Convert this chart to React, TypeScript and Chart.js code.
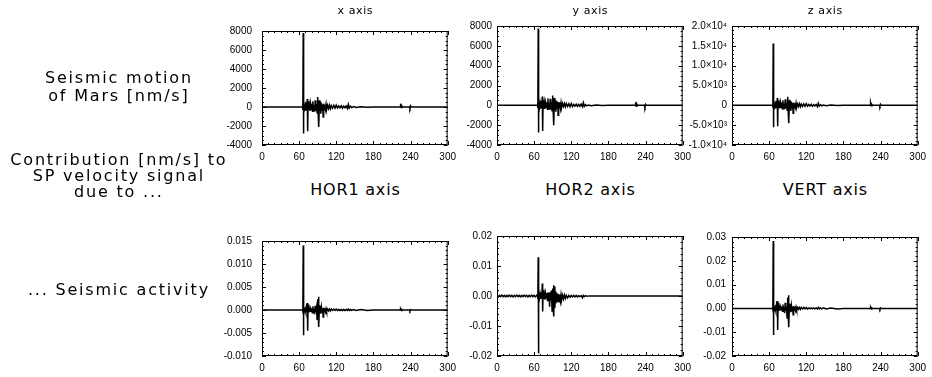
import React, { useEffect, useRef } from "react";
import { Chart, registerables } from "chart.js";

Chart.register(...registerables);

const TICK_FONT = "'Liberation Sans', Arial, sans-serif";
const TEXT_FONT = "'DejaVu Sans', 'Liberation Sans', sans-serif";

// ---------------- data ----------------
const xTickValues = [0, 60, 120, 180, 240, 300];

// shared time samples (s) for the event traces
const eventTimes = [
  0, 64, 65.5, 66, 66.6, 67.0, 67.5, 68.5, 69.5, 70.5,
  71.5, 72.5, 73.2, 73.8, 74.5, 75.5, 76.5, 77.5, 78.5, 79.5,
  80.5, 81.5, 82.3, 83, 84, 85, 86, 87, 88, 89,
  90, 90.7, 91.3, 92, 92.8, 93.5, 94.3, 95, 96, 97,
  98, 98.8, 99.6, 100.5, 101.5, 102.5, 103.5, 104.5, 106, 107.5,
  109, 110.5, 112, 114, 116, 118, 120, 122, 124, 126,
  128, 130, 132, 134, 136, 138, 139.5, 141, 143, 145,
  148, 152, 160, 170, 180, 223, 224, 225, 226, 227,
  238, 239, 240, 241, 300,
];

// Seismic motion of Mars [nm/s], x axis
const xAxisMotion = [
  0, 0, 0, -300, 7800, -2800, 300, -200, 150, -400,
  500, -300, 850, -2550, 600, -300, 200, -400, 300, -250,
  350, -450, 600, -300, 200, -500, 700, -400, 300, -600,
  1050, -500, 600, -2100, 700, -300, 550, -700, 400, -350,
  300, -1050, 350, -300, 250, -200, 280, -250, 180, -150,
  200, -180, 150, -130, 180, -120, 200, -100, 110, -90,
  120, -120, 90, -80, 110, -150, 280, -100, 80, -60,
  40, -40, 30, -20, 0, 0, 350, -50, 100, 0,
  0, -150, 120, 0, 0,
];

// y axis
const yAxisMotion = [
  0, 0, 0, -250, 7750, -2750, 350, -250, 200, -350,
  450, -250, 900, -2600, 550, -350, 250, -350, 250, -200,
  300, -400, 700, -250, 250, -450, 650, -450, 350, -550,
  1000, -450, 650, -2000, 750, -350, 500, -650, 450, -300,
  350, -1000, 300, -250, 300, -250, 250, -200, 200, -120,
  180, -150, 170, -110, 150, -140, 180, -120, 100, -80,
  110, -100, 100, -90, 120, -130, 260, -110, 70, -50,
  40, -30, 30, -20, 0, 0, 300, -80, 120, 0,
  0, -180, 100, 0, 0,
];

// z axis
const zAxisMotion = [
  0, 0, 0, -500, 15600, -5500, 600, -400, 300, -800,
  1000, -600, 1850, -5300, 1200, -600, 400, -800, 600, -500,
  700, -900, 1300, -600, 400, -1000, 1500, -800, 600, -1200,
  2150, -1000, 1200, -4500, 1400, -600, 1100, -1400, 800, -700,
  600, -2000, 700, -600, 500, -400, 550, -500, 350, -300,
  400, -350, 300, -250, 350, -250, 400, -200, 220, -180,
  240, -240, 180, -160, 220, -300, 500, -200, 160, -120,
  80, -80, 60, -40, 0, 0, 600, -100, 200, 0,
  0, -300, 240, 0, 0,
];

// Contribution to SP velocity signal, HOR1
const hor1Contribution = [
  0, 0, 0, -0.0003, 0.014, -0.0055, 0.0004, -0.0003, 0.0002, -0.0004,
  0.0005, -0.0004, 0.0015, -0.0045, 0.0012, -0.0005, 0.0003, -0.0004, 0.0003, -0.0003,
  0.0004, -0.0006, 0.0008, -0.0004, 0.0003, -0.0009, 0.0009, -0.0005, 0.0004, -0.002,
  0.0024, -0.0008, 0.0029, -0.0037, 0.001, -0.0004, 0.0008, -0.0008, 0.0006, -0.0005,
  0.0004, -0.0015, 0.0005, -0.0004, 0.0004, -0.0003, 0.0003, -0.0003, 0.0002, -0.0002,
  0.0002, -0.0002, 0.0002, -0.0001, 0.0002, -0.0001, 0.0002, -0.0001, 0.0001, -0.0001,
  0.0001, -0.0001, 0.0001, -0.0001, 0.0001, -0.0001, 0.0002, -0.0001, 0.0001, -0.0001,
  0.0001, -0.0001, 0.0001, -0.0001, 0, 0, 0.0002, -0.0001, 0.0001, 0,
  0, -0.0002, 0.0001, 0, 0,
];

// VERT
const vertContribution = [
  0, 0, 0, -0.0006, 0.0283, -0.0112, 0.0008, -0.0006, 0.0004, -0.0008,
  0.001, -0.0008, 0.0031, -0.0091, 0.0024, -0.001, 0.0006, -0.0008, 0.0006, -0.0006,
  0.0008, -0.0012, 0.0016, -0.0008, 0.0006, -0.002, 0.0024, -0.001, 0.0008, -0.004,
  0.0046, -0.0016, 0.0055, -0.0079, 0.002, -0.0008, 0.0016, -0.0016, 0.0012, -0.001,
  0.0008, -0.0027, 0.001, -0.0008, 0.0008, -0.0006, 0.0006, -0.0006, 0.0004, -0.0004,
  0.0004, -0.0004, 0.0004, -0.0002, 0.0004, -0.0002, 0.0004, -0.0002, 0.0002, -0.0002,
  0.0002, -0.0002, 0.0002, -0.0002, 0.0002, -0.0002, 0.0004, -0.0002, 0.0002, -0.0002,
  0.0002, -0.0002, 0.0002, -0.0002, 0, 0, 0.0004, -0.0002, 0.0002, 0,
  0, -0.0004, 0.0002, 0, 0,
];

// HOR2 has its own samples (background noise before the event)
const hor2Times = [
  0, 2, 4, 6, 8, 10, 12, 14, 16, 18,
  20, 22, 24, 26, 28, 30, 32, 34, 36, 38,
  40, 42, 44, 46, 48, 50, 52, 54, 56, 58,
  60, 62, 64,
  65.5, 66, 66.6, 67.0, 67.5, 68.5, 69.5, 70.5, 71.5, 72.5,
  73.2, 73.8, 74.5, 75.5, 76.5, 77.5, 78.5, 79.5, 80.5, 81.5,
  82.3, 83, 84, 85, 86, 87, 88, 89, 90, 90.7,
  91.3, 92, 92.8, 93.5, 94.3, 95, 96, 97, 98, 98.8,
  99.6, 100.5, 101.5, 102.5, 103.5, 104.5, 106, 107.5, 109, 110.5,
  112, 114, 116, 118, 120, 122, 124, 126, 128, 130,
  132, 134, 136, 138, 139.5, 141, 143, 145,
  150, 160, 170, 180, 190, 200, 210, 220, 230, 240,
  250, 260, 270, 280, 290, 300,
];

const hor2Contribution = [
  0.0002, -0.0003, 0.0002, -0.0002, 0.0003, -0.0002, 0.0002, -0.0003, 0.0002, -0.0002,
  0.0003, -0.0002, 0.0002, -0.0003, 0.0002, -0.0002, 0.0003, -0.0002, 0.0002, -0.0003,
  0.0002, -0.0002, 0.0003, -0.0002, 0.0002, -0.0003, 0.0002, -0.0002, 0.0003, -0.0002,
  0.0002, -0.0003, 0.0002,
  0.0005, -0.001, 0.0129, -0.0192, 0.0015, -0.0008, 0.0006, -0.001, 0.0012, -0.0008,
  0.0042, -0.0052, 0.002, -0.001, 0.0006, -0.0012, 0.0008, -0.0006, 0.001, -0.0015,
  0.0012, -0.0008, 0.001, -0.0036, 0.0014, -0.0015, 0.0018, -0.005, 0.0025, -0.0035,
  0.0036, -0.0068, 0.0032, -0.004, 0.0015, -0.0025, 0.001, -0.0018, 0.0008, -0.0015,
  0.0006, -0.0019, 0.0005, -0.0014, 0.0004, -0.0012, 0.0003, -0.001, 0.0003, -0.0008,
  0.0002, -0.0006, 0.0002, -0.0004, 0.0002, -0.0003, 0.0002, -0.0003, 0.0002, -0.0003,
  0.0001, -0.0002, 0.0001, -0.0006, 0.0002, -0.0002, 0.0001, -0.0001,
  0.00004, -0.00004, 0.00004, -0.00004, 0.00004, -0.00004, 0.00004, -0.00004, 0.00004, -0.00004,
  0.00004, -0.00004, 0.00004, -0.00004, 0.00004, 0,
];

const zTickValues = [-10000, -5000, 0, 5000, 10000, 15000, 20000];
const zTickLabels = ["-1.0×10⁴", "-5.0×10³", "0", "5.0×10³", "1.0×10⁴", "1.5×10⁴", "2.0×10⁴"];

const panelTitles = ["x axis", "y axis", "z axis", "HOR1 axis", "HOR2 axis", "VERT axis"];
const rowLabels = [
  ["Seismic motion", "of Mars [nm/s]"],
  ["Contribution [nm/s] to", "SP velocity signal", "due to ..."],
  ["... Seismic activity"],
];

// ---------------- layout ----------------
const YW = 62; // space left of plot inside canvas
const TP = 8;
const RP = 14;
const XH = 26;

type Spec = {
  L: number; T: number; R: number; B: number;
  times: number[]; values: number[];
  yMin: number; yMax: number; yStep: number; yMinor: number;
  fmt: (v: number) => string;
  pad: number;
};

const idlFrame = {
  id: "idlFrame",
  afterDatasetsDraw(chart: any, _args: any, opts: any) {
    const { ctx, chartArea } = chart;
    const { left, top, right, bottom } = chartArea;
    const xs = chart.scales.x;
    const ys = chart.scales.y;
    ctx.save();
    ctx.strokeStyle = "#000";
    ctx.lineWidth = 1;
    ctx.strokeRect(left + 0.5, top + 0.5, right - left - 1, bottom - top - 1);
    ctx.beginPath();
    const MAJ = 4, MIN = 2;
    const nx = Math.round((xs.max - xs.min) / opts.xMinor);
    for (let i = 0; i <= nx; i++) {
      const v = xs.min + i * opts.xMinor;
      const r = v / opts.xMajor;
      const isMaj = Math.abs(r - Math.round(r)) < 1e-6;
      const len = isMaj ? MAJ : MIN;
      const px = Math.round(xs.getPixelForValue(v)) + 0.5;
      ctx.moveTo(px, bottom);
      ctx.lineTo(px, bottom - len);
      ctx.moveTo(px, top);
      ctx.lineTo(px, top + len);
    }
    const ny = Math.round((ys.max - ys.min) / opts.yMinor);
    for (let i = 0; i <= ny; i++) {
      const v = ys.min + i * opts.yMinor;
      const r = (v - ys.min) / opts.yMajor;
      const isMaj = Math.abs(r - Math.round(r)) < 1e-6;
      const len = isMaj ? MAJ : MIN;
      const py = Math.round(ys.getPixelForValue(v)) + 0.5;
      ctx.moveTo(left, py);
      ctx.lineTo(left + len, py);
      ctx.moveTo(right, py);
      ctx.lineTo(right - len, py);
    }
    ctx.stroke();
    ctx.restore();
  },
};

function Panel({ spec }: { spec: Spec }) {
  const ref = useRef<HTMLCanvasElement>(null);
  const w = YW + (spec.R - spec.L) + RP;
  const h = TP + (spec.B - spec.T) + XH;
  useEffect(() => {
    const data = spec.times.map((t, i) => ({ x: t, y: spec.values[i] }));
    const chart = new Chart(ref.current as HTMLCanvasElement, {
      type: "line",
      data: {
        datasets: [
          {
            data,
            borderColor: "#000",
            borderWidth: 1.5,
            pointRadius: 0,
            tension: 0,
            fill: false,
          },
        ],
      },
      options: {
        animation: false,
        responsive: false,
        events: [],
        layout: { padding: { left: 0, top: TP, right: RP, bottom: 0 } },
        plugins: {
          legend: { display: false },
          tooltip: { enabled: false },
          title: { display: false },
          idlFrame: { xMajor: 60, xMinor: 10, yMajor: spec.yStep, yMinor: spec.yMinor },
        } as any,
        scales: {
          x: {
            type: "linear",
            min: 0,
            max: 300,
            grid: { display: false, drawTicks: false },
            border: { display: false },
            afterFit: (s: any) => { s.height = XH; },
            afterBuildTicks: (s: any) => { s.ticks = xTickValues.map((v) => ({ value: v })); },
            ticks: {
              color: "#000",
              font: { family: TICK_FONT, size: 10 },
              padding: 6,
              maxRotation: 0,
              autoSkip: false,
            },
          },
          y: {
            type: "linear",
            min: spec.yMin,
            max: spec.yMax,
            grid: { display: false, drawTicks: false },
            border: { display: false },
            afterFit: (s: any) => { s.width = YW; },
            ticks: {
              stepSize: spec.yStep,
              color: "#000",
              font: { family: TICK_FONT, size: 10 },
              padding: spec.pad,
              autoSkip: false,
              callback: (v: any) => spec.fmt(Number(v)),
            },
          },
        },
      },
      plugins: [idlFrame as any],
    });
    return () => chart.destroy();
  }, []);
  return (
    <canvas
      ref={ref}
      width={w}
      height={h}
      style={{ position: "absolute", left: spec.L - YW, top: spec.T - TP, width: w, height: h }}
    />
  );
}

const fmtInt = (v: number) => String(Math.round(v));
const fmt3 = (v: number) => (Math.abs(v) < 1e-9 ? "0.000" : v.toFixed(3));
const fmt2 = (v: number) => (Math.abs(v) < 1e-9 ? "0.00" : v.toFixed(2));
const fmtZ = (v: number) => {
  const i = zTickValues.findIndex((z) => Math.abs(z - v) < 1e-6);
  return i >= 0 ? zTickLabels[i] : "";
};

const specs: Spec[] = [
  { L: 262, T: 23, R: 448, B: 145, times: eventTimes, values: xAxisMotion, yMin: -4000, yMax: 8000, yStep: 2000, yMinor: 500, fmt: fmtInt, pad: 10 },
  { L: 497, T: 23, R: 683, B: 145, times: eventTimes, values: yAxisMotion, yMin: -4000, yMax: 8000, yStep: 2000, yMinor: 500, fmt: fmtInt, pad: 5 },
  { L: 732, T: 23, R: 918, B: 145, times: eventTimes, values: zAxisMotion, yMin: -10000, yMax: 20000, yStep: 5000, yMinor: 1000, fmt: fmtZ, pad: 5 },
  { L: 262, T: 233, R: 448, B: 356, times: eventTimes, values: hor1Contribution, yMin: -0.01, yMax: 0.015, yStep: 0.005, yMinor: 0.001, fmt: fmt3, pad: 10 },
  { L: 497, T: 233, R: 683, B: 356, times: hor2Times, values: hor2Contribution, yMin: -0.02, yMax: 0.02, yStep: 0.01, yMinor: 0.002, fmt: fmt2, pad: 5 },
  { L: 732, T: 233, R: 918, B: 356, times: eventTimes, values: vertContribution, yMin: -0.02, yMax: 0.03, yStep: 0.01, yMinor: 0.002, fmt: fmt2, pad: 6 },
];

function TextLines({ lines, cx, cy, size, lh, ls }: { lines: string[]; cx: number; cy: number; size: number; lh: number; ls: number }) {
  return (
    <div
      style={{
        position: "absolute",
        left: cx - 150 + ls / 2,
        width: 300,
        top: cy - (lines.length * lh) / 2,
        textAlign: "center",
        fontFamily: TEXT_FONT,
        fontSize: size,
        lineHeight: lh + "px",
        letterSpacing: ls + "px",
        color: "#000",
        whiteSpace: "pre",
      }}
    >
      {lines.map((l, i) => (
        <div key={i}>{l}</div>
      ))}
    </div>
  );
}

export default function App() {
  return (
    <div style={{ position: "absolute", left: 0, top: 0, width: 932, height: 377, background: "#fff", overflow: "hidden" }}>
      {specs.map((s, i) => (
        <Panel key={i} spec={s} />
      ))}
      {specs.slice(0, 3).map((s, i) => (
        <TextLines key={"t" + i} lines={[panelTitles[i]]} cx={(s.L + s.R) / 2} cy={10} size={11} lh={13} ls={0.6} />
      ))}
      {specs.slice(3).map((s, i) => (
        <TextLines key={"b" + i} lines={[panelTitles[i + 3]]} cx={(s.L + s.R) / 2} cy={190} size={16} lh={18} ls={0.8} />
      ))}
      <TextLines lines={rowLabels[0]} cx={118} cy={87} size={16} lh={18} ls={1.8} />
      <TextLines lines={rowLabels[1]} cx={118} cy={176} size={16} lh={16} ls={1.8} />
      <TextLines lines={rowLabels[2]} cx={118} cy={290} size={16} lh={18} ls={1.8} />
    </div>
  );
}
